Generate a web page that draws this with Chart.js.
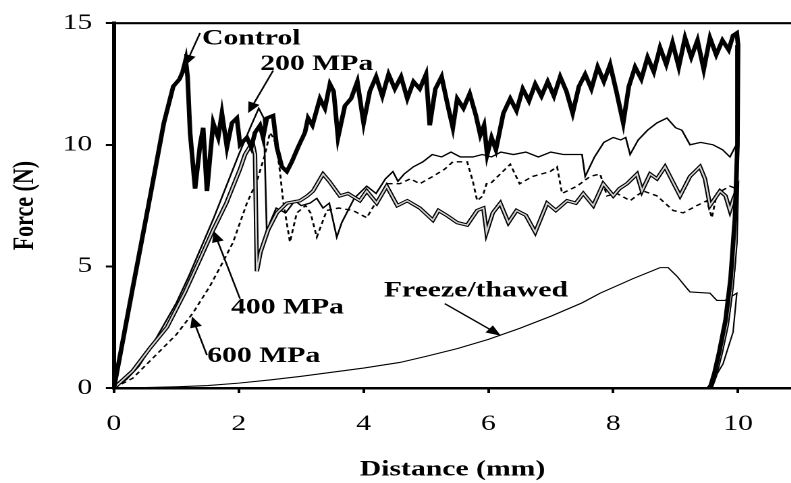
<!DOCTYPE html>
<html>
<head>
<meta charset="utf-8">
<script src="https://cdn.jsdelivr.net/npm/chart.js@4.4.0/dist/chart.umd.min.js"></script>
<style>
  html, body { margin: 0; padding: 0; background: #fff; overflow: hidden; }
  /* the original figure is stretched sideways, so the canvas is too */
  #wrap { width: 586px; height: 483px; transform: scaleX(1.35); transform-origin: 0 0; }
</style>
</head>
<body>
<div id="wrap"><canvas id="chart" width="586" height="483"></canvas></div>
<script>
// tick values
const xTicks = [0, 2, 4, 6, 8, 10];
const yTicks = [0, 5, 10, 15];

// curves: [distance mm, force N]
const controlPts = [[0,0],[0.3,4.1],[0.56,7.6],[0.8,10.9],[0.95,12.4],[1.05,12.7],[1.1,13.0],[1.15,13.5],[1.18,12.8],[1.22,10.5],[1.3,8.2],[1.38,10.0],[1.43,10.7],[1.49,8.1],[1.59,10.9],[1.67,10.3],[1.73,11.3],[1.81,9.9],[1.89,10.9],[1.97,11.1],[2.02,10.0],[2.13,10.3],[2.2,9.9],[2.26,10.5],[2.34,10.8],[2.39,10.3],[2.45,11.1],[2.55,11.2],[2.61,9.9],[2.69,9.1],[2.77,8.9],[2.85,9.3],[2.95,9.9],[3.06,10.5],[3.11,11.1],[3.18,10.8],[3.3,11.9],[3.38,11.5],[3.46,12.5],[3.52,12.2],[3.59,10.3],[3.7,11.6],[3.8,11.9],[3.9,12.6],[4.0,10.9],[4.1,12.2],[4.2,12.8],[4.3,12.0],[4.4,12.9],[4.5,12.3],[4.6,12.8],[4.7,11.9],[4.8,12.6],[4.9,12.3],[5.0,12.9],[5.06,10.8],[5.15,12.3],[5.25,12.8],[5.35,11.6],[5.43,10.7],[5.5,11.9],[5.6,11.5],[5.7,12.1],[5.8,11.2],[5.87,10.4],[5.93,10.8],[5.98,9.6],[6.05,10.3],[6.12,9.8],[6.24,11.3],[6.35,11.9],[6.45,11.4],[6.55,12.3],[6.65,11.8],[6.75,12.5],[6.85,12.0],[6.95,12.6],[7.05,12.0],[7.15,12.8],[7.25,12.2],[7.35,11.3],[7.45,12.4],[7.55,12.9],[7.65,12.3],[7.75,13.2],[7.85,12.6],[7.95,13.3],[8.05,12.2],[8.16,10.9],[8.25,12.4],[8.35,13.2],[8.45,12.7],[8.55,13.6],[8.65,13.0],[8.75,14.0],[8.85,13.3],[8.95,14.2],[9.05,13.2],[9.15,14.4],[9.25,13.6],[9.35,14.3],[9.45,13.1],[9.55,14.4],[9.65,13.7],[9.75,14.3],[9.85,13.9],[9.92,14.5],[9.98,14.6],[10.0,14.1],[9.99,10],[9.95,7],[9.88,4.5],[9.8,2.8],[9.7,1.5],[9.62,0.6],[9.55,0]];
const mpa200Pts = [[0,0],[0.2,0.35],[0.4,0.9],[0.6,1.7],[0.8,2.6],[1.0,3.5],[1.2,4.6],[1.4,5.8],[1.6,7.0],[1.8,8.3],[2.0,9.6],[2.2,10.8],[2.32,11.5],[2.4,11.1],[2.45,6.3],[2.5,6.8],[2.6,7.4],[2.75,7.2],[2.9,7.7],[3.0,7.5],[3.14,7.6],[3.25,7.8],[3.35,7.4],[3.45,7.6],[3.57,6.2],[3.65,6.8],[3.73,7.2],[3.85,7.8],[4.05,8.3],[4.2,8.0],[4.35,8.6],[4.47,8.9],[4.55,8.5],[4.65,8.8],[4.8,9.1],[4.95,9.3],[5.1,9.6],[5.25,9.5],[5.4,9.7],[5.55,9.5],[5.75,9.5],[5.9,9.6],[6.05,9.5],[6.2,9.7],[6.4,9.6],[6.6,9.7],[6.8,9.5],[7.0,9.7],[7.2,9.6],[7.4,9.6],[7.5,9.6],[7.55,8.7],[7.7,9.5],[7.85,10.1],[8.0,10.3],[8.12,10.2],[8.2,10.3],[8.27,9.6],[8.4,10.2],[8.55,10.6],[8.7,10.9],[8.86,11.1],[9.0,10.7],[9.1,10.6],[9.23,10.0],[9.4,10.1],[9.6,10.0],[9.75,9.8],[9.87,9.5],[9.95,9.9],[10.0,10.1],[9.99,7],[9.95,5],[9.87,3.2],[9.77,1.8],[9.67,0.8],[9.58,0.2],[9.54,0]];
const mpa400Pts = [[0,0],[0.3,0.7],[0.58,1.65],[0.85,2.5],[1.14,3.95],[1.38,5.3],[1.59,6.5],[1.8,7.6],[2.02,9.0],[2.1,9.6],[2.22,10.1],[2.26,9.6],[2.29,4.8],[2.35,5.6],[2.47,6.5],[2.61,7.2],[2.77,7.6],[2.98,7.7],[3.1,7.9],[3.19,8.1],[3.35,8.8],[3.45,8.5],[3.62,7.9],[3.75,8.0],[3.94,7.7],[4.05,8.1],[4.21,7.6],[4.37,8.3],[4.54,7.5],[4.7,7.7],[4.9,7.4],[5.11,6.9],[5.2,7.3],[5.33,7.1],[5.5,6.8],[5.66,6.7],[5.82,7.3],[5.92,7.4],[5.97,6.4],[6.07,7.2],[6.19,7.6],[6.32,6.8],[6.45,7.3],[6.6,7.1],[6.75,6.4],[6.94,7.6],[7.08,7.3],[7.26,7.7],[7.4,7.6],[7.52,8.0],[7.68,7.5],[7.84,8.4],[8.0,7.9],[8.1,8.2],[8.22,8.4],[8.38,8.8],[8.46,8.1],[8.59,8.8],[8.7,8.6],[8.83,9.1],[8.95,8.5],[9.07,7.9],[9.23,8.7],[9.39,9.1],[9.47,8.6],[9.55,7.5],[9.63,7.8],[9.71,8.1],[9.8,7.9],[9.87,7.3],[9.93,7.8],[9.98,8.1],[9.96,6],[9.9,4.2],[9.82,2.6],[9.72,1.4],[9.63,0.5],[9.56,0]];
const mpa600Pts = [[0,0],[0.3,0.4],[0.69,1.4],[1.0,2.2],[1.27,3.1],[1.54,4.2],[1.75,5.2],[1.91,6.0],[2.13,7.6],[2.29,8.5],[2.42,9.6],[2.5,10.5],[2.55,10.3],[2.6,10.0],[2.66,8.9],[2.71,7.7],[2.82,6.0],[2.93,7.2],[3.07,7.5],[3.15,7.2],[3.25,6.2],[3.41,7.3],[3.6,7.4],[3.83,7.3],[4.05,7.0],[4.26,7.9],[4.37,8.4],[4.58,8.4],[4.75,8.6],[4.9,8.4],[5.11,8.7],[5.3,9.0],[5.43,9.3],[5.6,9.3],[5.66,9.3],[5.75,8.5],[5.82,7.7],[5.91,7.9],[5.97,8.4],[6.03,8.4],[6.19,8.8],[6.35,9.2],[6.5,8.4],[6.71,8.7],[6.99,8.9],[7.1,9.1],[7.18,8.0],[7.42,8.3],[7.63,8.7],[7.79,8.8],[7.9,7.9],[8.06,8.0],[8.27,7.7],[8.48,8.1],[8.7,7.9],[8.96,7.3],[9.12,7.2],[9.34,7.5],[9.5,7.7],[9.58,7.0],[9.66,8.0],[9.87,8.3],[9.97,8.2],[9.95,6],[9.89,4.3],[9.81,2.7],[9.72,1.5],[9.64,0.6],[9.57,0]];
const freezePts = [[0,0],[0.5,0.02],[1,0.05],[1.5,0.1],[2,0.2],[2.5,0.33],[3,0.48],[3.5,0.65],[4,0.82],[4.58,1.05],[5,1.3],[5.5,1.62],[6,2.0],[6.5,2.45],[7,2.95],[7.5,3.5],[7.79,3.9],[8.32,4.5],[8.75,4.95],[8.88,4.95],[9.02,4.6],[9.18,4.1],[9.23,3.95],[9.55,3.9],[9.66,3.6],[9.79,3.6],[9.98,3.9],[9.92,2.3],[9.76,1.0],[9.6,0.3],[9.5,0]];

// labels with arrows (data coordinates)
const noteText = ['Control', '200 MPa', '400 MPa', '600 MPa', 'Freeze/thawed'];
const noteAt   = [[2.2, 14.35], [3.25, 13.3], [2.78, 3.3], [2.4, 1.3], [5.8, 4.0]];
const arrowFrom = [[1.38, 14.6], [2.55, 13.05], [2.02, 3.67], [1.49, 1.35], [5.3, 3.47]];
const arrowTo   = [[1.14, 13.25], [2.15, 11.3], [1.6, 6.45], [1.25, 2.94], [6.2, 2.15]];

const FONT = '"Liberation Serif", "Times New Roman", serif';
Chart.defaults.font.family = FONT;
Chart.defaults.color = '#000';

const toXY = pts => pts.map(p => ({ x: p[0], y: p[1] }));

// top frame line
const frameTop = {
  id: 'frameTop',
  afterDraw(chart) {
    const { ctx, chartArea } = chart;
    ctx.save();
    ctx.strokeStyle = '#000';
    ctx.lineWidth = 2.2;
    ctx.beginPath();
    ctx.moveTo(chartArea.left, chartArea.top);
    ctx.lineTo(chartArea.right, chartArea.top);
    ctx.stroke();
    ctx.restore();
  }
};

// labels + arrows
const notes = {
  id: 'notes',
  afterDatasetsDraw(chart) {
    const { ctx, scales: { x, y } } = chart;
    ctx.save();
    ctx.fillStyle = '#000';
    ctx.strokeStyle = '#000';
    ctx.font = 'bold 22px ' + FONT;
    ctx.textAlign = 'center';
    ctx.textBaseline = 'middle';
    noteText.forEach((t, i) => {
      ctx.fillText(t, x.getPixelForValue(noteAt[i][0]), y.getPixelForValue(noteAt[i][1]));
      const x1 = x.getPixelForValue(arrowFrom[i][0]), y1 = y.getPixelForValue(arrowFrom[i][1]);
      const x2 = x.getPixelForValue(arrowTo[i][0]), y2 = y.getPixelForValue(arrowTo[i][1]);
      const a = Math.atan2(y2 - y1, x2 - x1);
      ctx.lineWidth = 1.3;
      ctx.beginPath();
      ctx.moveTo(x1, y1);
      ctx.lineTo(x2 - 6 * Math.cos(a), y2 - 6 * Math.sin(a));
      ctx.stroke();
      // arrow head
      ctx.beginPath();
      ctx.moveTo(x2, y2);
      ctx.lineTo(x2 - 11 * Math.cos(a) + 4.5 * Math.sin(a), y2 - 11 * Math.sin(a) - 4.5 * Math.cos(a));
      ctx.lineTo(x2 - 11 * Math.cos(a) - 4.5 * Math.sin(a), y2 - 11 * Math.sin(a) + 4.5 * Math.cos(a));
      ctx.closePath();
      ctx.fill();
    });
    ctx.restore();
  }
};

const line = (pts, w, color, order, dash) => ({
  data: toXY(pts),
  borderColor: color,
  borderWidth: w,
  borderDash: dash || [],
  pointRadius: 0,
  tension: 0,
  fill: false,
  order: order
});

new Chart(document.getElementById('chart'), {
  type: 'line',
  data: {
    datasets: [
      line(controlPts, 3.4, '#000', 0),
      line(mpa400Pts, 1.3, '#d4d4d4', 1),
      line(mpa400Pts, 3.3, '#000', 2),
      line(mpa200Pts, 1.3, '#000', 3),
      line(mpa600Pts, 1.4, '#000', 4, [4, 3]),
      line(freezePts, 1.1, '#000', 5)
    ]
  },
  options: {
    responsive: false,
    animation: false,
    devicePixelRatio: 2,
    layout: { padding: { top: 16, right: 0, left: 0, bottom: 0 } },
    plugins: { legend: { display: false }, tooltip: { enabled: false } },
    scales: {
      x: {
        type: 'linear',
        min: 0,
        max: 10.85,
        afterBuildTicks: s => { s.ticks = xTicks.map(v => ({ value: v })); },
        afterFit: s => { s.height = 95; },
        ticks: { font: { size: 22 }, padding: 18, maxRotation: 0 },
        grid: { drawOnChartArea: false, drawTicks: true, tickLength: 5, tickWidth: 2, tickColor: '#000' },
        border: { display: true, color: '#000', width: 2.5 },
        title: { display: true, text: 'Distance (mm)', font: { size: 22, weight: 'bold' }, padding: { top: 10, bottom: 0 } }
      },
      y: {
        min: 0,
        max: 15,
        afterBuildTicks: s => { s.ticks = yTicks.map(v => ({ value: v })); },
        afterFit: s => { s.width = 84.4; },
        ticks: { font: { size: 22 }, padding: 10 },
        grid: { drawOnChartArea: false, drawTicks: true, tickLength: 6, tickWidth: 2, tickColor: '#000' },
        border: { display: true, color: '#000', width: 3 },
        title: { display: true, text: 'Force (N)', font: { size: 22, weight: 'bold' }, padding: { top: 5.7, bottom: 0 } }
      }
    }
  },
  plugins: [frameTop, notes]
});
</script>
</body>
</html>
